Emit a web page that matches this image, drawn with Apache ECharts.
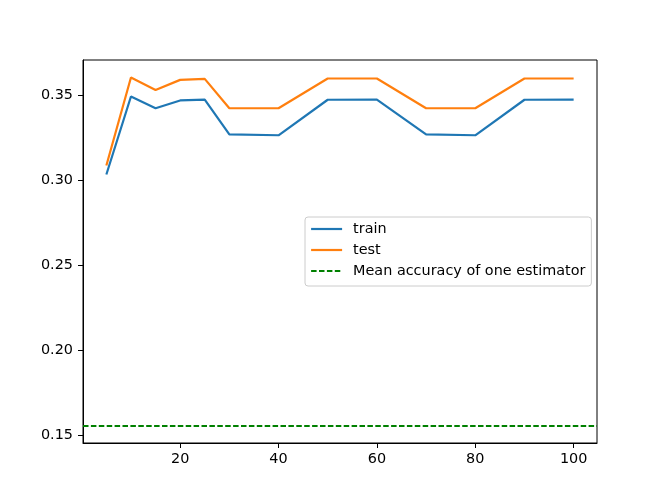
<!DOCTYPE html>
<html>
<head>
<meta charset="utf-8">
<script src="https://cdn.jsdelivr.net/npm/echarts@6/dist/echarts.min.js"></script>
<style>html,body{margin:0;padding:0;background:#fff;}#c{width:664px;height:498px;}</style>
</head>
<body>
<div id="c"></div>
<script>
const nEstimators = [5, 10, 15, 20, 25, 30, 40, 50, 60, 70, 80, 90, 100];
const trainAcc = [0.3035, 0.3494, 0.3425, 0.3471, 0.3476, 0.3271, 0.3266, 0.3475, 0.3476, 0.3271, 0.3266, 0.3475, 0.3476];
const testAcc  = [0.3088, 0.3606, 0.3532, 0.3592, 0.3598, 0.3425, 0.3425, 0.3600, 0.3600, 0.3425, 0.3425, 0.3600, 0.3600];
const meanAcc = 0.1557;
const xTicks = [20, 40, 60, 80, 100];
const yTicks = [0.15, 0.20, 0.25, 0.30, 0.35];

const font = 'DejaVu Sans';
const fs = 14.4;
const chart = echarts.init(document.getElementById('c'), null, {renderer: 'canvas'});
chart.setOption({
  animation: false,
  backgroundColor: '#fff',
  grid: {left: 83, right: 67, top: 60, bottom: 55, show: true, borderColor: '#000', borderWidth: 1, containLabel: false},
  xAxis: {
    type: 'value', min: 0.25, max: 104.75,
    splitLine: {show: false},
    axisLine: {show: true, onZero: false, lineStyle: {color: '#000', width: 1}},
    axisTick: {show: true, length: 5, lineStyle: {color: '#000'}, customValues: xTicks},
    axisLabel: {color: '#000', fontFamily: font, fontSize: fs, margin: 9, customValues: xTicks, formatter: v => String(v)}
  },
  yAxis: {
    type: 'value', min: 0.1455, max: 0.3709,
    splitLine: {show: false},
    axisLine: {show: true, onZero: false, lineStyle: {color: '#000', width: 1}},
    axisTick: {show: true, length: 5, lineStyle: {color: '#000'}, customValues: yTicks},
    axisLabel: {color: '#000', fontFamily: font, fontSize: fs, margin: 10, customValues: yTicks, formatter: v => v.toFixed(2)}
  },
  legend: {
    orient: 'vertical', left: 305, top: 217,
    padding: [5, 6, 8, 5],
    itemWidth: 31, itemHeight: 14, itemGap: 7,
    itemStyle: {opacity: 0},
    lineStyle: {width: 2.2},
    backgroundColor: '#fff', borderColor: '#cccccc', borderWidth: 1, borderRadius: 3,
    textStyle: {color: '#000', fontFamily: font, fontSize: fs, padding: [0, 0, 0, 6]},
    data: ['train', 'test', 'Mean accuracy of one estimator']
  },
  series: [
    {name: 'train', type: 'line', symbol: 'none', data: nEstimators.map((n, i) => [n, trainAcc[i]]),
     lineStyle: {color: '#1f77b4', width: 2.2}, itemStyle: {color: '#1f77b4'}},
    {name: 'test', type: 'line', symbol: 'none', data: nEstimators.map((n, i) => [n, testAcc[i]]),
     lineStyle: {color: '#ff7f0e', width: 2.2}, itemStyle: {color: '#ff7f0e'}},
    {name: 'Mean accuracy of one estimator', type: 'line', symbol: 'none', data: [],
     lineStyle: {color: '#008000', width: 2.2, type: [5.5, 2.4]}, itemStyle: {color: '#008000'},
     markLine: {silent: true, symbol: 'none', precision: 4, label: {show: false},
       lineStyle: {color: '#008000', width: 2.2, type: [5.5, 2.4]},
       data: [{yAxis: meanAcc}]}}
  ]
});
</script>
</body>
</html>
